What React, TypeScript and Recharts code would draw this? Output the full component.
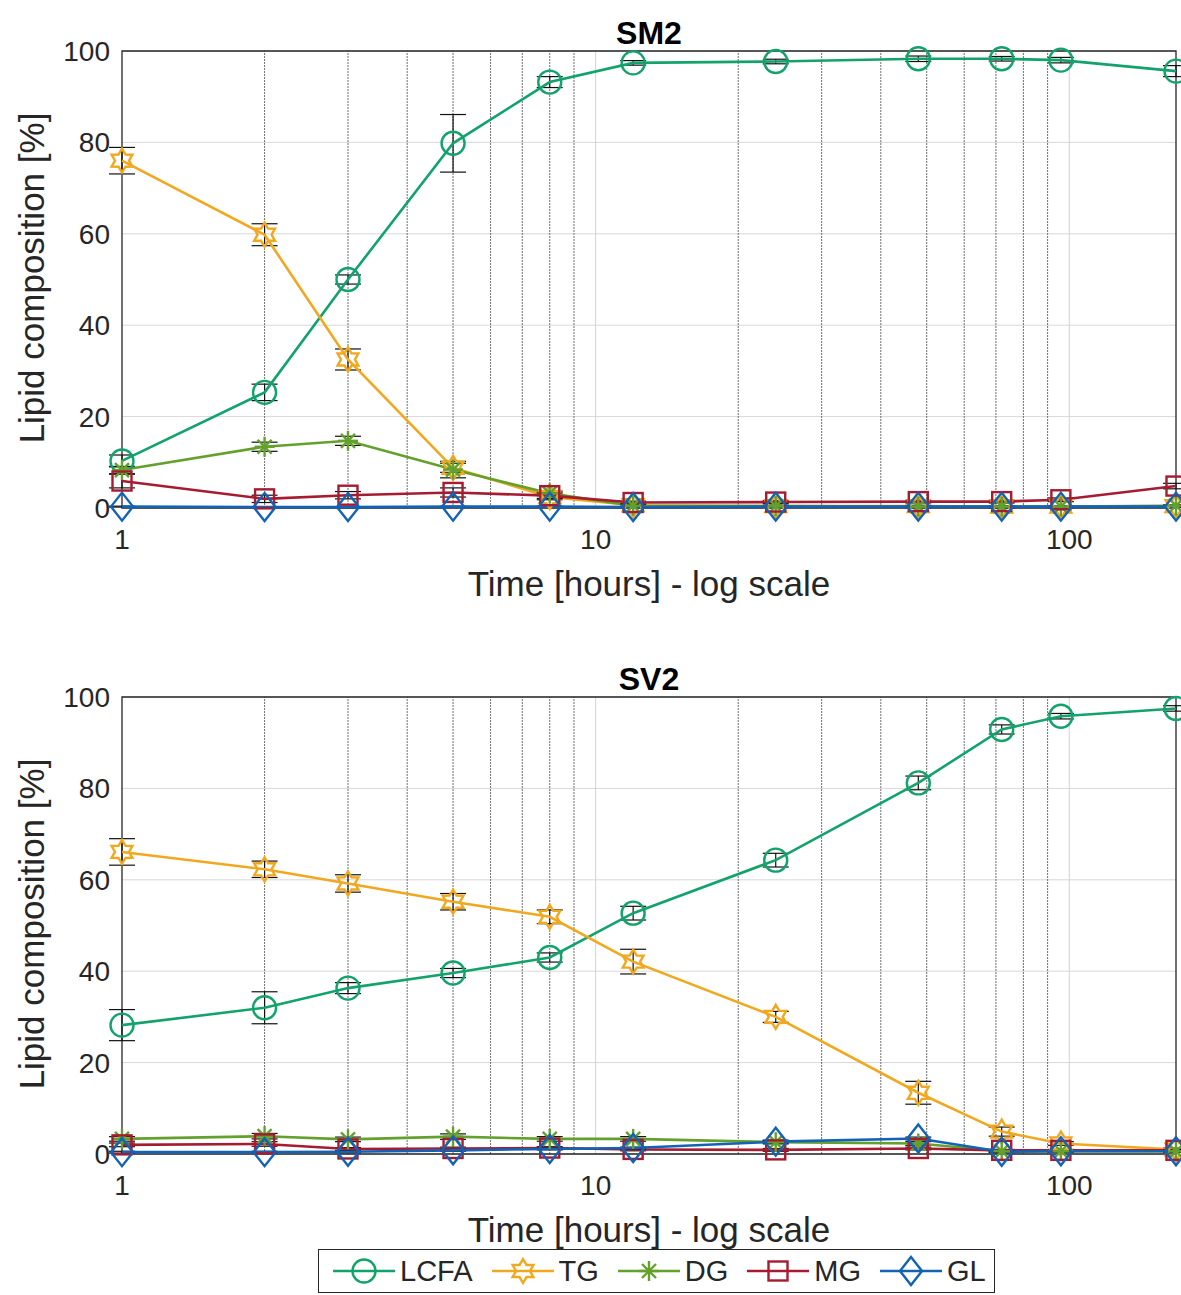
import React from 'react';
import { LineChart, Line, XAxis, YAxis, CartesianGrid, ReferenceLine, ReferenceArea, ErrorBar } from 'recharts';

const FONT = '"Liberation Sans", Arial, Helvetica, sans-serif';

// sampling times (hours) and axis ticks
const hours = [1, 2, 3, 5, 8, 12, 24, 48, 72, 96, 168];
const xTicks = [1, 10, 100];
const yTicks = [0, 20, 40, 60, 80, 100];
const minorGrid = [2, 3, 4, 5, 6, 7, 8, 9, 20, 30, 40, 50, 60, 70, 80, 90];
const majorGrid = [10, 100];

// series meta
const seriesNames = ['LCFA', 'TG', 'DG', 'MG', 'GL'];
const seriesKeys = ['lcfa', 'tg', 'dg', 'mg', 'gl'];
const seriesColors = ['#12a36c', '#f2a81e', '#64a12c', '#a51c30', '#1262b6'];
const seriesMarkers = ['circle', 'hexagram', 'asterisk', 'square', 'diamond'];

// SM2 values [%]
const sm2Lcfa = [10.3, 25.3, 50.0, 79.8, 93.2, 97.4, 97.7, 98.3, 98.3, 98.0, 95.6];
const sm2Tg = [76.0, 59.8, 32.5, 8.8, 2.4, 0.6, 0.4, 0.4, 0.3, 0.3, 0.4];
const sm2Dg = [8.3, 13.4, 14.7, 8.4, 3.2, 0.5, 0.4, 0.3, 0.3, 0.3, 0.5];
const sm2Mg = [5.9, 2.0, 2.8, 3.4, 2.7, 1.2, 1.3, 1.4, 1.4, 1.8, 4.8];
const sm2Gl = [0.3, 0.2, 0.2, 0.3, 0.3, 0.2, 0.3, 0.3, 0.3, 0.3, 0.3];

// SM2 standard deviations
const sm2LcfaErr = [1.3, 1.8, 1.0, 6.3, 1.2, 0.5, 0.5, 0.6, 0.5, 0.6, 1.2];
const sm2TgErr = [2.9, 2.4, 2.3, 1.0, 0.6, 0.2, 0.2, 0.2, 0.2, 0.2, 0.2];
const sm2DgErr = [0.8, 1.0, 1.0, 1.8, 0.5, 0.2, 0.2, 0.2, 0.2, 0.2, 0.2];
const sm2MgErr = [1.5, 0.8, 0.8, 1.0, 0.6, 0.3, 0.3, 0.3, 0.3, 0.4, 0.6];
const sm2GlErr = [0.1, 0.1, 0.1, 0.1, 0.1, 0.1, 0.1, 0.1, 0.1, 0.1, 0.1];

// SV2 values [%]
const sv2Lcfa = [28.2, 32.0, 36.3, 39.6, 43.0, 52.7, 64.3, 81.2, 92.9, 95.8, 97.5];
const sv2Tg = [66.1, 62.3, 59.2, 55.2, 51.9, 42.1, 30.0, 13.4, 4.9, 2.3, 1.0];
const sv2Dg = [3.3, 3.9, 3.2, 3.8, 3.3, 3.3, 2.6, 2.3, 0.6, 0.6, 0.6];
const sv2Mg = [2.0, 2.2, 1.1, 1.2, 1.3, 1.0, 0.9, 1.2, 0.8, 0.8, 0.8];
const sv2Gl = [0.4, 0.4, 0.5, 0.8, 1.1, 1.3, 2.7, 3.4, 0.5, 0.6, 0.6];

// SV2 standard deviations
const sv2LcfaErr = [3.4, 3.5, 1.2, 1.0, 1.0, 1.5, 1.5, 1.5, 1.0, 0.6, 0.6];
const sv2TgErr = [2.9, 1.8, 1.9, 1.8, 1.5, 2.7, 1.2, 2.5, 1.0, 0.4, 0.3];
const sv2DgErr = [0.5, 0.6, 0.5, 0.6, 0.5, 0.5, 0.4, 0.4, 0.2, 0.2, 0.2];
const sv2MgErr = [0.4, 0.5, 0.3, 0.3, 0.3, 0.3, 0.3, 0.3, 0.2, 0.2, 0.2];
const sv2GlErr = [0.2, 0.2, 0.2, 0.2, 0.2, 0.2, 0.3, 0.3, 0.2, 0.2, 0.2];

function buildRows(values: number[][], errors: number[][]) {
  return hours.map((t, i) => {
    const row: Record<string, number> = { t };
    seriesKeys.forEach((k, s) => {
      row[k] = values[s][i];
      row[k + 'Err'] = errors[s][i];
    });
    return row;
  });
}

const sm2Rows = buildRows(
  [sm2Lcfa, sm2Tg, sm2Dg, sm2Mg, sm2Gl],
  [sm2LcfaErr, sm2TgErr, sm2DgErr, sm2MgErr, sm2GlErr]
);
const sv2Rows = buildRows(
  [sv2Lcfa, sv2Tg, sv2Dg, sv2Mg, sv2Gl],
  [sv2LcfaErr, sv2TgErr, sv2DgErr, sv2MgErr, sv2GlErr]
);

function Marker({ kind, cx, cy, color }: { kind: string; cx: number; cy: number; color: string }) {
  const common = { fill: 'none', stroke: color, strokeWidth: 2.4 };
  if (kind === 'circle') return <circle cx={cx} cy={cy} r={11.5} {...common} />;
  if (kind === 'square') return <rect x={cx - 9.5} y={cy - 9.5} width={19} height={19} {...common} />;
  if (kind === 'diamond') {
    const pts = `${cx},${cy - 14} ${cx + 11},${cy} ${cx},${cy + 14} ${cx - 11},${cy}`;
    return <polygon points={pts} {...common} />;
  }
  if (kind === 'hexagram') {
    const pts: string[] = [];
    for (let i = 0; i < 12; i++) {
      const a = (-90 + i * 30) * Math.PI / 180;
      const r = i % 2 === 0 ? 12 : 7;
      pts.push(`${cx + r * Math.cos(a)},${cy + r * Math.sin(a)}`);
    }
    return <polygon points={pts.join(' ')} {...common} />;
  }
  // asterisk
  const d = 10;
  const e = 7;
  return (
    <g stroke={color} strokeWidth={2.4}>
      <line x1={cx - d} y1={cy} x2={cx + d} y2={cy} />
      <line x1={cx} y1={cy - d} x2={cx} y2={cy + d} />
      <line x1={cx - e} y1={cy - e} x2={cx + e} y2={cy + e} />
      <line x1={cx - e} y1={cy + e} x2={cx + e} y2={cy - e} />
    </g>
  );
}

const tickStyle = { fontSize: 28, fill: '#262626', fontFamily: FONT };

function Panel({ title, top, rows }: { title: string; top: number; rows: Record<string, number>[] }) {
  return (
    <div style={{ position: 'absolute', left: 0, top, width: 1181, height: 620 }}>
      <div
        style={{
          position: 'absolute', left: 122, width: 1054, top: 17, textAlign: 'center',
          fontSize: 32, lineHeight: '32px', fontWeight: 'bold', color: '#000',
        }}
      >
        {title}
      </div>
      <div
        style={{
          position: 'absolute', left: 31, top: 278, transform: 'translate(-50%, -50%) rotate(-90deg)',
          whiteSpace: 'nowrap', fontSize: 35, lineHeight: '35px', color: '#262626',
        }}
      >
        Lipid composition [%]
      </div>
      <div
        style={{
          position: 'absolute', left: 122, width: 1054, top: 566, textAlign: 'center',
          fontSize: 35, lineHeight: '35px', color: '#262626',
        }}
      >
        Time [hours] - log scale
      </div>
      <LineChart width={1181} height={620} data={rows} margin={{ top: 51, right: 5, bottom: 0, left: 0 }}>
        <CartesianGrid vertical={false} stroke="#d8d8d8" />
        <XAxis
          dataKey="t" type="number" scale="log" domain={[1, 168]} ticks={xTicks} interval={0}
          tickLine={false} axisLine={false} tickSize={0} tickMargin={21} height={112} tick={tickStyle}
        />
        <YAxis
          type="number" domain={[0, 100]} ticks={yTicks} interval={0} width={122}
          tickLine={false} axisLine={false} tickSize={0} tickMargin={12} tick={tickStyle}
        />
        {majorGrid.map((v) => (
          <ReferenceLine key={'M' + v} x={v} stroke="#d2d2d2" strokeWidth={1} zIndex={-50} />
        ))}
        {minorGrid.map((v) => (
          <ReferenceLine key={'m' + v} x={v} stroke="#6e6e6e" strokeDasharray="2 1" strokeWidth={1} zIndex={-50} />
        ))}
        <ReferenceArea x1={1} x2={168} y1={0} y2={100} fill="none" fillOpacity={0} stroke="#262626" strokeWidth={1.3} />
        {seriesKeys.map((k, s) => (
          <Line
            key={k}
            type="linear"
            dataKey={k}
            name={seriesNames[s]}
            stroke={seriesColors[s]}
            strokeWidth={2.6}
            isAnimationActive={false}
            activeDot={false}
            dot={(p: any) => (
              <Marker key={`${k}-${p.index}`} kind={seriesMarkers[s]} cx={p.cx} cy={p.cy} color={seriesColors[s]} />
            )}
          >
            <ErrorBar dataKey={k + 'Err'} width={13} stroke="#111" strokeWidth={1.2} direction="y" />
          </Line>
        ))}
      </LineChart>
    </div>
  );
}

function LegendBox() {
  return (
    <div
      style={{
        position: 'absolute', left: 318, top: 1249, width: 677, height: 44, boxSizing: 'border-box',
        border: '1px solid #262626', background: '#fff', display: 'flex', alignItems: 'center',
        paddingLeft: 14, color: '#262626',
      }}
    >
      {seriesNames.map((n, s) => (
        <div key={n} style={{ display: 'flex', alignItems: 'center', marginRight: 19 }}>
          <svg width={62} height={40}>
            <line x1={0} y1={20} x2={62} y2={20} stroke={seriesColors[s]} strokeWidth={2.4} />
            <Marker kind={seriesMarkers[s]} cx={31} cy={20} color={seriesColors[s]} />
          </svg>
          <span style={{ fontSize: 29, lineHeight: '30px', marginLeft: 5 }}>{n}</span>
        </div>
      ))}
    </div>
  );
}

export default function App() {
  return (
    <div
      style={{
        position: 'absolute', left: 0, top: 0, width: 1181, height: 1295, background: '#fff',
        fontFamily: FONT, overflow: 'hidden',
      }}
    >
      <Panel title="SM2" top={0} rows={sm2Rows} />
      <Panel title="SV2" top={646} rows={sv2Rows} />
      <LegendBox />
    </div>
  );
}
